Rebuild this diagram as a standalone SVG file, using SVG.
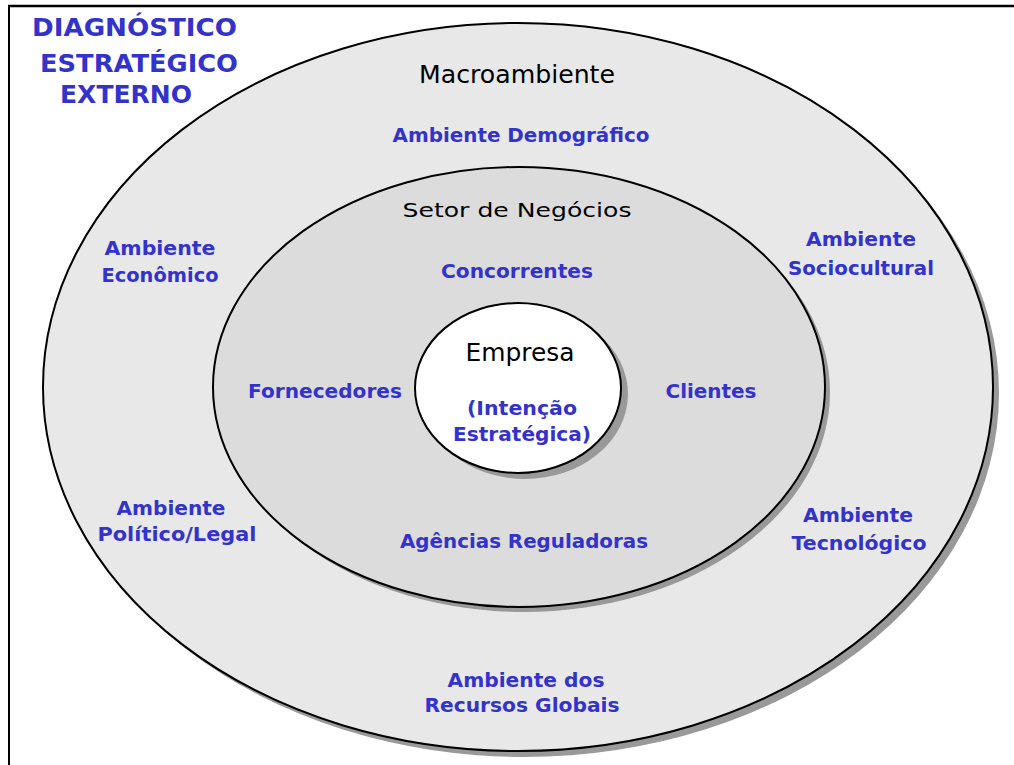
<svg xmlns="http://www.w3.org/2000/svg" width="1014" height="765" viewBox="0 0 1014 765">
<style>
.lbl{font-family:"DejaVu Sans","Liberation Sans",sans-serif;font-weight:bold;fill:#3333cc;font-size:19px;text-anchor:middle}
.ttl{font-family:"DejaVu Sans","Liberation Sans",sans-serif;font-weight:bold;fill:#3333cc;font-size:24px}
.hd{font-family:"DejaVu Sans","Liberation Sans",sans-serif;fill:#000;text-anchor:middle}
.edge{stroke:#000;stroke-width:2}
.shadow{fill:#999999}
</style>
<rect x="0" y="0" width="1014" height="765" fill="#ffffff"/>
<g id="frame">
<line x1="8" y1="6" x2="1014" y2="6" stroke="#000" stroke-width="2.5"/>
<line x1="9" y1="5" x2="9" y2="765" stroke="#000" stroke-width="2"/>
</g>
<g id="title">
<text class="ttl" x="32" y="36" textLength="205" lengthAdjust="spacingAndGlyphs">DIAGNÓSTICO</text>
<text class="ttl" x="40" y="72" textLength="198" lengthAdjust="spacingAndGlyphs">ESTRATÉGICO</text>
<text class="ttl" x="60" y="103" textLength="132" lengthAdjust="spacingAndGlyphs">EXTERNO</text>
</g>
<g id="macroambiente">
<ellipse class="shadow" cx="524" cy="393" rx="475" ry="364"/>
<ellipse cx="518" cy="387" rx="475" ry="364" fill="#e8e8e8" class="edge"/>
<text class="hd" x="517" y="83" font-size="24" textLength="196" lengthAdjust="spacingAndGlyphs">Macroambiente</text>
</g>
<g id="setor">
<ellipse class="shadow" cx="524" cy="392" rx="306" ry="220"/>
<ellipse cx="519" cy="387" rx="306" ry="220" fill="#dcdcdc" class="edge"/>
<text class="hd" x="517" y="217" font-size="20" textLength="229" lengthAdjust="spacingAndGlyphs">Setor de Negócios</text>
</g>
<g id="empresa">
<ellipse class="shadow" cx="525" cy="394" rx="103" ry="85"/>
<ellipse cx="518" cy="388" rx="103" ry="85" fill="#ffffff" class="edge"/>
<text class="hd" x="520" y="361" font-size="24" textLength="109" lengthAdjust="spacingAndGlyphs">Empresa</text>
<text class="lbl" x="522" y="415" textLength="110" lengthAdjust="spacingAndGlyphs">(Intenção</text>
<text class="lbl" x="522" y="441" textLength="138" lengthAdjust="spacingAndGlyphs">Estratégica)</text>
</g>
<g id="demografico"><text class="lbl" x="521" y="142" textLength="257" lengthAdjust="spacingAndGlyphs">Ambiente Demográfico</text></g>
<g id="economico">
<text class="lbl" x="160" y="255" textLength="111" lengthAdjust="spacingAndGlyphs">Ambiente</text>
<text class="lbl" x="160" y="282" textLength="117" lengthAdjust="spacingAndGlyphs">Econômico</text>
</g>
<g id="sociocultural">
<text class="lbl" x="861" y="246" textLength="110" lengthAdjust="spacingAndGlyphs">Ambiente</text>
<text class="lbl" x="861" y="275" textLength="146" lengthAdjust="spacingAndGlyphs">Sociocultural</text>
</g>
<g id="politico">
<text class="lbl" x="171" y="515" textLength="109" lengthAdjust="spacingAndGlyphs">Ambiente</text>
<text class="lbl" x="177" y="541" textLength="159" lengthAdjust="spacingAndGlyphs">Político/Legal</text>
</g>
<g id="tecnologico">
<text class="lbl" x="858" y="522" textLength="110" lengthAdjust="spacingAndGlyphs">Ambiente</text>
<text class="lbl" x="859" y="550" textLength="135" lengthAdjust="spacingAndGlyphs">Tecnológico</text>
</g>
<g id="globais">
<text class="lbl" x="526" y="687" textLength="157" lengthAdjust="spacingAndGlyphs">Ambiente dos</text>
<text class="lbl" x="522" y="712" textLength="195" lengthAdjust="spacingAndGlyphs">Recursos Globais</text>
</g>
<g id="concorrentes"><text class="lbl" x="517" y="278" textLength="152" lengthAdjust="spacingAndGlyphs">Concorrentes</text></g>
<g id="fornecedores"><text class="lbl" x="325" y="398" textLength="154" lengthAdjust="spacingAndGlyphs">Fornecedores</text></g>
<g id="clientes"><text class="lbl" x="711" y="398" textLength="91" lengthAdjust="spacingAndGlyphs">Clientes</text></g>
<g id="agencias"><text class="lbl" x="524" y="548" textLength="248" lengthAdjust="spacingAndGlyphs">Agências Reguladoras</text></g>
</svg>
